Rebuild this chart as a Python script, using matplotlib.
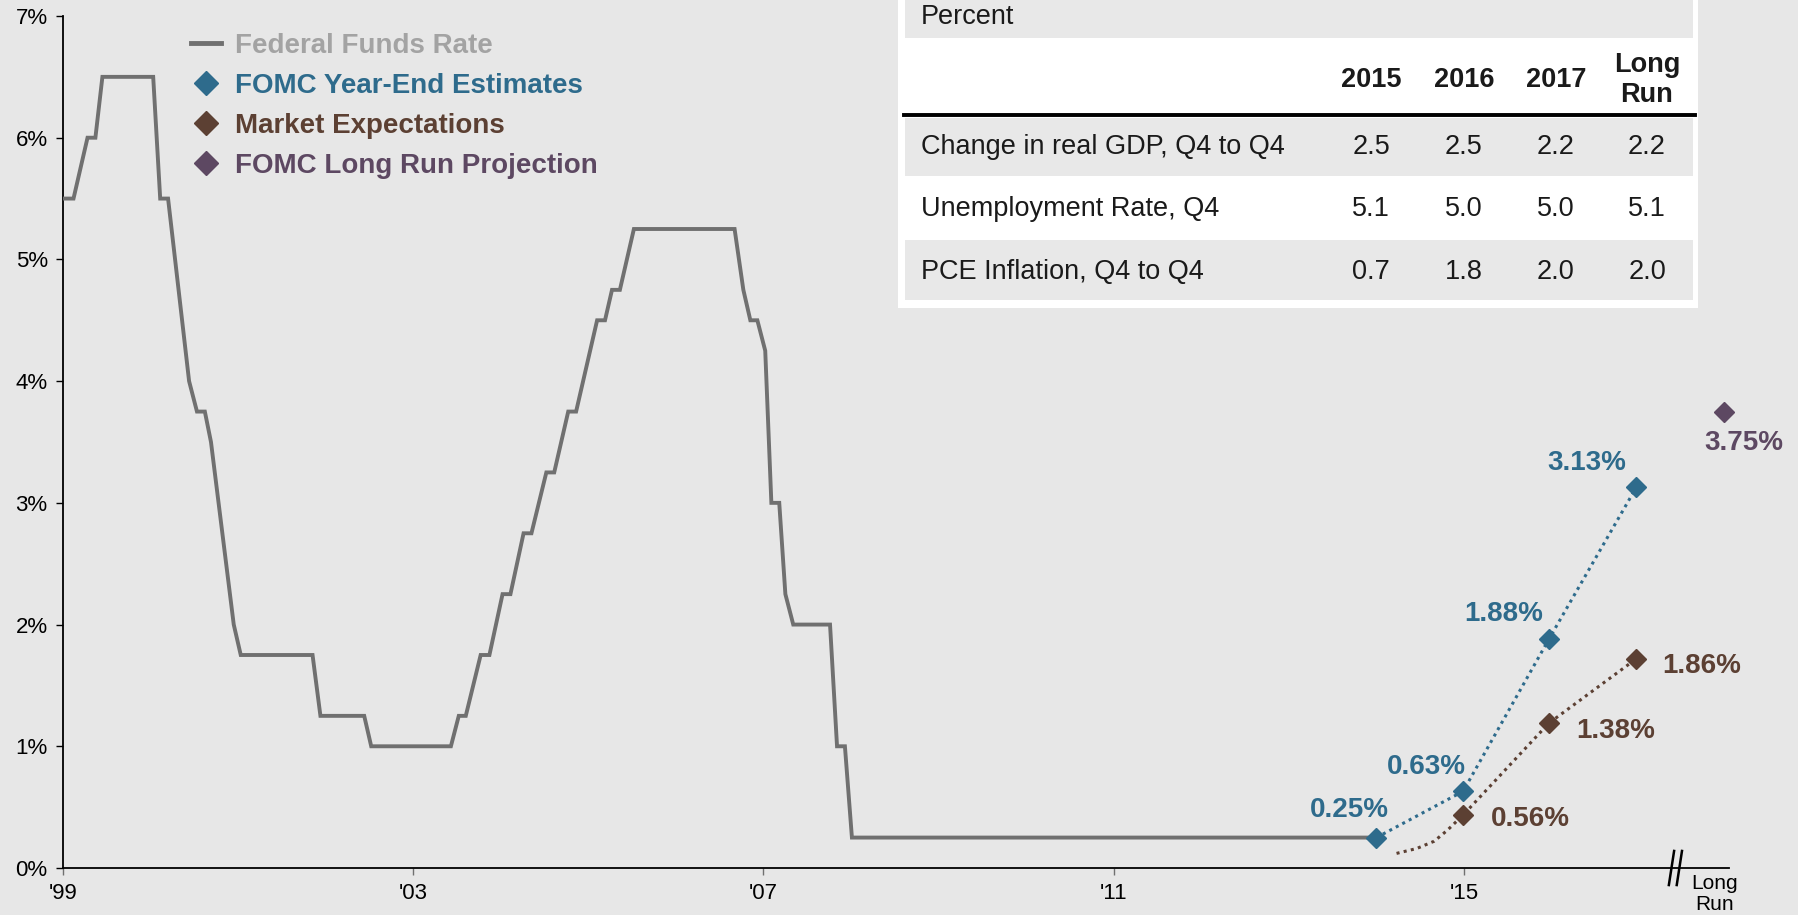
import matplotlib
matplotlib.use("Agg")
import matplotlib.pyplot as plt
from matplotlib.lines import Line2D
from matplotlib.patches import Rectangle

# federal funds rate (year, percent)
fed_x = [2000.00, 2000.12, 2000.28, 2000.37, 2000.45, 2001.03, 2001.11, 2001.20,
         2001.44, 2001.53, 2001.62, 2001.69, 2001.95, 2002.03, 2002.85, 2002.94,
         2003.44, 2003.52, 2004.43, 2004.52, 2004.60, 2004.77, 2004.87, 2005.02,
         2005.11, 2005.26, 2005.35, 2005.52, 2005.61, 2005.77, 2005.86, 2006.10,
         2006.19, 2006.27, 2006.36, 2006.52, 2007.67, 2007.77, 2007.85, 2007.93,
         2008.02, 2008.09, 2008.18, 2008.25, 2008.34, 2008.76, 2008.84, 2008.93,
         2009.01, 2015.00]
fed_y = [5.5, 5.5, 6.0, 6.0, 6.5, 6.5, 5.5, 5.5,
         4.0, 3.75, 3.75, 3.5, 2.0, 1.75, 1.75, 1.25,
         1.25, 1.0, 1.0, 1.25, 1.25, 1.75, 1.75, 2.25,
         2.25, 2.75, 2.75, 3.25, 3.25, 3.75, 3.75, 4.5,
         4.5, 4.75, 4.75, 5.25, 5.25, 4.75, 4.5, 4.5,
         4.25, 3.0, 3.0, 2.25, 2.0, 2.0, 1.0, 1.0,
         0.25, 0.25]

# FOMC year-end estimates
fomc_x = [2015.00, 2015.99, 2016.97, 2017.97]
fomc_y = [0.25, 0.63, 1.88, 3.13]
fomc_labels = ["0.25%", "0.63%", "1.88%", "3.13%"]

# market expectations (dotted path + year-end points)
mkt_path_x = [2015.23, 2015.46, 2015.66, 2015.81, 2015.99, 2016.97, 2017.97]
mkt_path_y = [0.12, 0.16, 0.22, 0.31, 0.435, 1.19, 1.72]
mkt_x = [2015.99, 2016.97, 2017.97]
mkt_y = [0.435, 1.19, 1.72]
mkt_labels = ["0.56%", "1.38%", "1.86%"]

# long run projection
lr_x = [2018.97]
lr_y = [3.75]
lr_labels = ["3.75%"]

xtick_pos = [2000, 2004, 2008, 2012, 2016]
xtick_labels = ["'99", "'03", "'07", "'11", "'15"]
ytick_pos = [0, 1, 2, 3, 4, 5, 6, 7]

# projections table
tbl_cols = ["2015", "2016", "2017", "Long\nRun"]
tbl_rows = ["Change in real GDP, Q4 to Q4", "Unemployment Rate, Q4", "PCE Inflation, Q4 to Q4"]
tbl_gdp = ["2.5", "2.5", "2.2", "2.2"]
tbl_unemp = ["5.1", "5.0", "5.0", "5.1"]
tbl_pce = ["0.7", "1.8", "2.0", "2.0"]

BG = "#e7e7e7"
GRAY = "#707070"
GRAY_TXT = "#a3a3a3"
BLUE = "#2e6b8c"
BROWN = "#5c4033"
PURPLE = "#5d4862"

plt.rcParams["font.family"] = ["Liberation Sans", "DejaVu Sans"]

fig = plt.figure(figsize=(17.98, 9.15), dpi=100, facecolor=BG)
# right edge of the x axis sits a little before the long run marker
ax = fig.add_axes([0.03504, 0.05137, 0.9265, 0.93114])
ax.set_facecolor(BG)

ax.plot(fed_x, fed_y, color=GRAY, lw=2.8, solid_joinstyle="miter", zorder=3)
dots = (0, (1, 1.4))
ax.plot(fomc_x, fomc_y, color=BLUE, lw=2.2, ls=dots, zorder=4)
ax.plot(mkt_path_x, mkt_path_y, color=BROWN, lw=2.2, ls=dots, zorder=4)
ax.plot(fomc_x, fomc_y, ls="none", marker="D", ms=10, color=BLUE, zorder=5)
ax.plot(mkt_x, mkt_y, ls="none", marker="D", ms=10, color=BROWN, zorder=5)
ax.plot(lr_x, lr_y, ls="none", marker="D", ms=10, color=PURPLE, zorder=5, clip_on=False)

lab_font = dict(fontsize=20, fontweight="bold", ha="center", va="center",
                textcoords="offset pixels", annotation_clip=False)
for x, y, s, off in zip(fomc_x, fomc_y, fomc_labels, [(-27, 28), (-37, 24), (-45, 25), (-50, 24)]):
    ax.annotate(s, (x, y), xytext=off, color=BLUE, **lab_font)
for x, y, s, off in zip(mkt_x, mkt_y, mkt_labels, [(67, -4), (67, -8), (65, -7)]):
    ax.annotate(s, (x, y), xytext=off, color=BROWN, **lab_font)
for x, y, s in zip(lr_x, lr_y, lr_labels):
    ax.annotate(s, (x, y), xytext=(20, -31), color=PURPLE, **lab_font)

ax.set_xlim(2000, 2000 + 0.9265 * 1798 / 87.56)
ax.set_ylim(0, 7)
for side in ["top", "right"]:
    ax.spines[side].set_visible(False)
for side in ["left", "bottom"]:
    ax.spines[side].set_color("black")
    ax.spines[side].set_linewidth(1.3)

ax.set_yticks(ytick_pos)
ax.set_yticklabels([f"{v}%" for v in ytick_pos])
ax.set_xticks(xtick_pos)
ax.set_xticklabels(xtick_labels, family=["Liberation Sans Narrow", "Liberation Sans"])
ax.tick_params(axis="y", direction="out", length=5, width=1, colors="black",
               labelsize=16, pad=6)
ax.tick_params(axis="x", direction="out", length=5, width=1, color=GRAY,
               labelcolor="black", labelsize=16, pad=6)

# axis break and the "Long Run" position
for bx in [2018.37, 2018.46]:
    ax.plot([bx - 0.03, bx + 0.03], [-0.14, 0.14], color="black", lw=1.8, clip_on=False)
ax.text(2018.86, -0.05, "Long\nRun", ha="center", va="top", fontsize=15,
        linespacing=1.1, transform=ax.transData)

# legend
handles = [
    Line2D([], [], color=GRAY, lw=3.5),
    Line2D([], [], ls="none", marker="D", ms=12, color=BLUE),
    Line2D([], [], ls="none", marker="D", ms=12, color=BROWN),
    Line2D([], [], ls="none", marker="D", ms=12, color=PURPLE),
]
labels = ["Federal Funds Rate", "FOMC Year-End Estimates", "Market Expectations",
          "FOMC Long Run Projection"]
ax.legend(handles, labels, loc="upper left", bbox_to_anchor=(0.1, 0.976),
          bbox_transform=fig.transFigure, frameon=False, handlelength=1.1,
          handletextpad=0.48, labelspacing=0.5, borderaxespad=0,
          labelcolor=[GRAY_TXT, BLUE, BROWN, PURPLE],
          prop=dict(size=20, weight="bold"))

# table drawn in pixel coordinates on an overlay
ov = fig.add_axes([0, 0, 1, 1], facecolor="none")
ov.set_xlim(0, 1798)
ov.set_ylim(915, 0)
ov.axis("off")
ov.add_patch(Rectangle((898, 0), 800, 308, facecolor="white", edgecolor="none"))
ov.add_patch(Rectangle((905, 0), 788, 38, facecolor="#e8e8e8", edgecolor="none"))
ov.add_patch(Rectangle((905, 118), 788, 58, facecolor="#e8e8e8", edgecolor="none"))
ov.add_patch(Rectangle((905, 240), 788, 60, facecolor="#e8e8e8", edgecolor="none"))
ov.plot([904, 1695], [115, 115], color="black", lw=2.8)

txt = dict(fontsize=19.5, color="#1a1a1a", va="center")
ov.text(921, 17, "Percent", ha="left", **txt)
col_x = [1371, 1464, 1556, 1647]
for cx, c in zip(col_x, tbl_cols):
    ov.text(cx, 80, c, ha="center", fontweight="bold", linespacing=1.15, **txt)
row_y = [147, 209, 272]
for ry, name, vals in zip(row_y, tbl_rows, [tbl_gdp, tbl_unemp, tbl_pce]):
    ov.text(921, ry, name, ha="left", **txt)
    for cx, v in zip(col_x, vals):
        ov.text(cx, ry, v, ha="center", **txt)

fig.savefig("out.png", dpi=100, facecolor=BG)
